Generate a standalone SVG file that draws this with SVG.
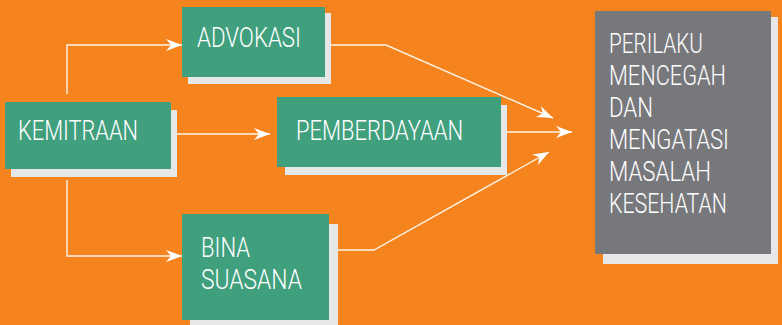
<svg xmlns="http://www.w3.org/2000/svg" width="782" height="325" viewBox="0 0 782 325">
<defs>
<style>
.bg{fill:#F5841F}
.sh{fill:#E6E7E8}
.gr{fill:#40A07E}
.gy{fill:#77787C}
.t{fill:#FFFFFF;font-family:Roboto,"Liberation Sans",Arial,sans-serif;font-size:27px;font-weight:300}
.c{fill:none;stroke:#FFF3E6;stroke-width:1.4}
</style>
<marker id="ah" markerUnits="userSpaceOnUse" markerWidth="18" markerHeight="14" refX="16" refY="6" orient="auto">
<path d="M0,0 L16,6 L0,12 L5,6 Z" fill="#FFFFFF"/>
</marker>
</defs>
<rect class="bg" x="0" y="0" width="782" height="325"/>
<g id="connectors">
<path class="c" d="M67,94 V45 H182" marker-end="url(#ah)"/>
<path class="c" d="M67,180 V256 H182" marker-end="url(#ah)"/>
<path class="c" d="M177,134 H270" marker-end="url(#ah)"/>
<path class="c" d="M331,45 H386 L553,118" marker-end="url(#ah)"/>
<path class="c" d="M507,132 H572" marker-end="url(#ah)"/>
<path class="c" d="M338,250 H374 L549,152" marker-end="url(#ah)"/>
</g>
<g id="kemitraan">
<rect class="sh" x="11" y="110" width="166" height="67"/>
<rect class="gr" x="5" y="102" width="166" height="67"/>
<text class="t" x="18" y="140" textLength="120" lengthAdjust="spacingAndGlyphs">KEMITRAAN</text>
</g>
<g id="advokasi">
<rect class="sh" x="188" y="13" width="143" height="71"/>
<rect class="gr" x="182" y="7" width="143" height="70"/>
<text class="t" x="197" y="47" textLength="104" lengthAdjust="spacingAndGlyphs">ADVOKASI</text>
</g>
<g id="pemberdayaan">
<rect class="sh" x="285" y="105" width="222" height="70"/>
<rect class="gr" x="277" y="97" width="224" height="70"/>
<text class="t" x="296" y="140" textLength="167" lengthAdjust="spacingAndGlyphs">PEMBERDAYAAN</text>
</g>
<g id="bina-suasana">
<rect class="sh" x="190" y="224" width="148" height="101"/>
<rect class="gr" x="182" y="214" width="147" height="106"/>
<text class="t" x="201" y="257" textLength="49" lengthAdjust="spacingAndGlyphs">BINA</text>
<text class="t" x="201" y="289" textLength="101" lengthAdjust="spacingAndGlyphs">SUASANA</text>
</g>
<g id="perilaku">
<rect class="sh" x="603" y="17" width="175" height="247"/>
<rect class="gy" x="595" y="11" width="176" height="243"/>
<text class="t" x="609" y="53" textLength="94" lengthAdjust="spacingAndGlyphs">PERILAKU</text>
<text class="t" x="609" y="85" textLength="117" lengthAdjust="spacingAndGlyphs">MENCEGAH</text>
<text class="t" x="609" y="117" textLength="44" lengthAdjust="spacingAndGlyphs">DAN</text>
<text class="t" x="609" y="149" textLength="120" lengthAdjust="spacingAndGlyphs">MENGATASI</text>
<text class="t" x="609" y="181" textLength="102" lengthAdjust="spacingAndGlyphs">MASALAH</text>
<text class="t" x="609" y="213" textLength="118" lengthAdjust="spacingAndGlyphs">KESEHATAN</text>
</g>
</svg>
